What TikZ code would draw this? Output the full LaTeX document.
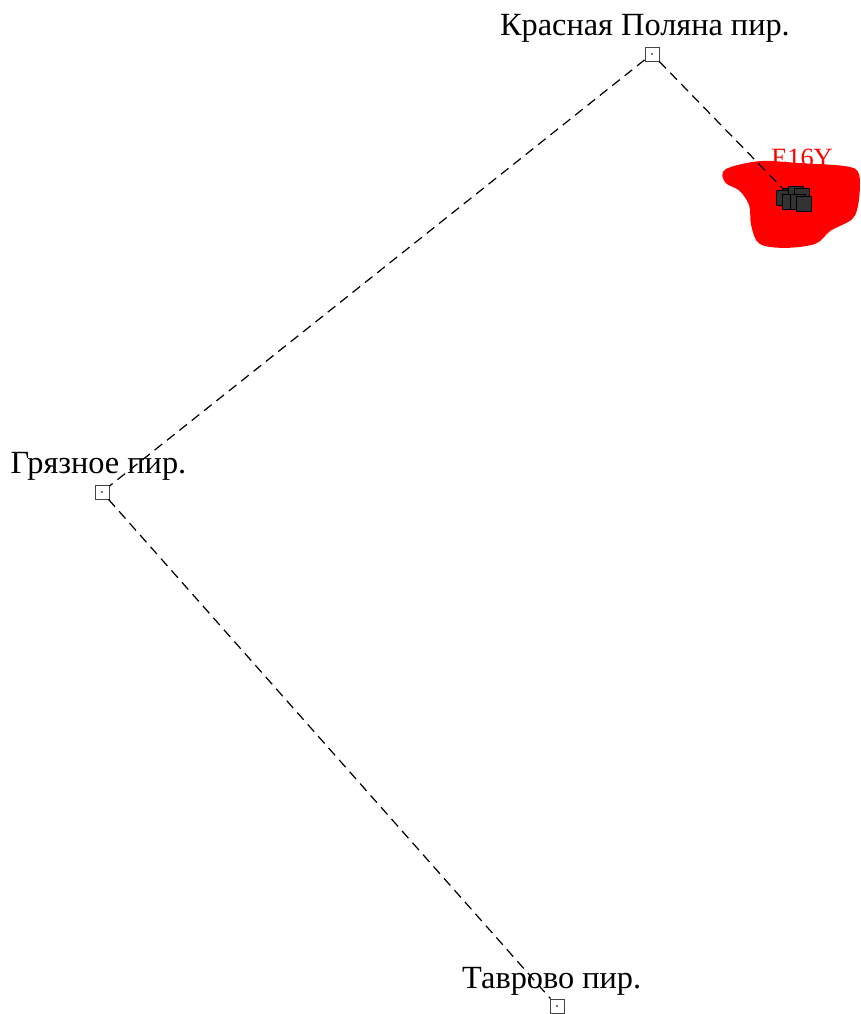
\documentclass[tikz,border=0pt]{standalone}
\usepackage{fontspec}
\setmainfont{Liberation Serif}
\usetikzlibrary{positioning}
\definecolor{cred}{HTML}{FF0000}
\definecolor{cgrey}{HTML}{444444}
\tikzset{
  every picture/.style={x=0.02cm, y=-0.02cm},
  stop/.style={draw=cgrey, line width=0.5pt, minimum size=0.28cm, inner sep=0pt},
  stoplabel/.style={font=\fontsize{18.4}{21}\selectfont, inner sep=0pt},
  route/.style={draw=black, line width=0.7pt, dash pattern=on 5.5pt off 3.5pt},
  blob/.style={fill=cred, draw=cred, line width=1pt},
}
\begin{document}
\begin{tikzpicture}
  \useasboundingbox (0,0) rectangle (860,1014);
  % red cluster of overlapping stops
  \path[blob] plot[smooth cycle, tension=0.55] coordinates {
    (726,170) (760,162) (800,164) (845,167) (858,174) (858,200)
    (852,218) (830,230) (815,243) (785,247) (760,243) (752,225)
    (750,205) (740,190) (726,182)};
  \node[text=cred, font=\fontsize{15}{17}\selectfont, inner sep=0pt] (cluster_lab) at (802,158) {E16Y};
  % stops
  \node[stop, draw=black, fill=black!85, minimum size=0.3cm] (clu) at (790,196) {};
  \foreach \dx/\dy in {-6/2, 6/-2, 12/0, 0/6, 8/6, 14/8}
    \node[stop, draw=black, fill=black!80, minimum size=0.3cm] at (790+\dx,196+\dy) {};
  \node[stop] (krp) at (652,54) {};
  \node[stop] (grz) at (102,492) {};
  \node[stop] (tav) at (557,1006) {};
  \foreach \s in {krp, grz, tav}
    \fill[cgrey] (\s) circle (0.6pt);
  % labels
  \node[stoplabel, above=2pt of krp, xshift=-4pt] {Красная Поляна пир.};
  \node[stoplabel, above=2pt of grz, xshift=-2pt] {Грязное пир.};
  \node[stoplabel, above=1.5pt of tav, xshift=-3pt] {Таврово пир.};
  % routes
  \draw[route] (krp) -- (grz);
  \draw[route] (grz) -- (tav);
  \draw[route] (krp) -- (clu);
\end{tikzpicture}
\end{document}
